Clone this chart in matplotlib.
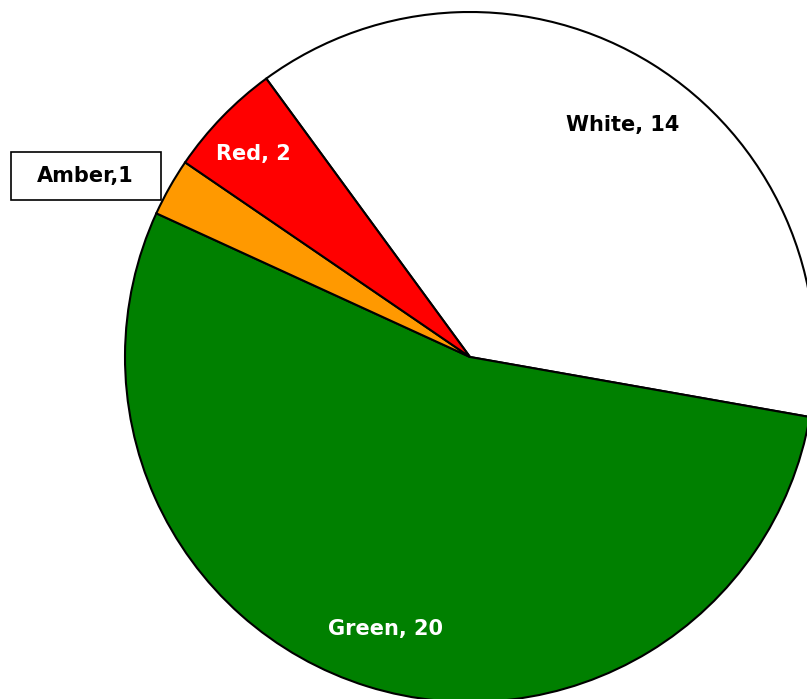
import matplotlib
matplotlib.use("Agg")
import matplotlib.pyplot as plt
from matplotlib.patches import Rectangle

# slice data, drawn clockwise starting from the upper left
categories = ["White", "Green", "Amber", "Red"]
values = [14, 20, 1, 2]
colors = ["#FFFFFF", "#008000", "#FF9900", "#FF0000"]
label_colors = ["black", "white", "black", "white"]

fig = plt.figure(figsize=(8.07, 6.99), dpi=100)
# centre of pie at (470, 357) px, radius 345 px
W, H = 807, 699
cx, cy, r = 470, 357, 345
ax = fig.add_axes([(cx - r) / W, (H - cy - r) / H, 2 * r / W, 2 * r / H])

wedges, _ = ax.pie(values, colors=colors, startangle=126.2, counterclock=False,
                   radius=1, wedgeprops=dict(edgecolor="black", linewidth=1.5))
for w in wedges:
    w.set_clip_on(False)
ax.set_xlim(-1, 1)
ax.set_ylim(-1, 1)
ax.set_aspect("equal")
ax.axis("off")

def px(x, y):
    return (x - cx) / r, (cy - y) / r

# box around the amber label (pixels: 11..161 x 152..200)
ax.add_patch(Rectangle((11 / W, (H - 200) / H), 150 / W, 48 / H,
                       transform=fig.transFigure, facecolor="white",
                       edgecolor="black", linewidth=1.2, clip_on=False, zorder=4))

# label positions in pixels of the original image
label_pos = [(623, 125), (386, 629), (85, 176), (253, 154)]
for cat, val, lc, pos in zip(categories, values, label_colors, label_pos):
    sep = "," if cat == "Amber" else ", "
    x, y = px(*pos)
    ax.text(x, y, f"{cat}{sep}{val}", ha="center", va="center", color=lc,
            fontsize=15, fontweight="bold", family="DejaVu Sans",
            clip_on=False, zorder=5)

fig.savefig("out.png", dpi=100)
